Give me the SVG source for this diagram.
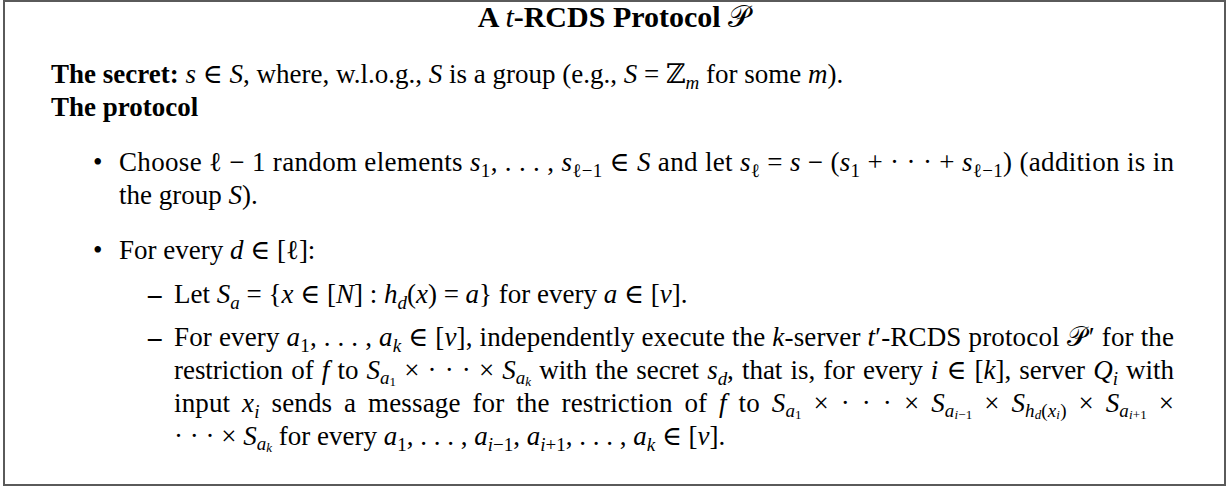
<svg xmlns="http://www.w3.org/2000/svg" width="1228" height="487" viewBox="0 0 1228 487">
  <style>
    .t { font-family: "Liberation Serif", "DejaVu Serif", serif; font-size: 27px; fill: #000; }
    .ttl { font-size: 30px; font-weight: bold; }
    .b { font-weight: bold; }
    .i { font-style: italic; }
    .s { font-size: 19px; }
    .ss { font-size: 13px; }
    .frame { fill: #fff; stroke: #5a5a5a; stroke-width: 2; }
  </style>

  <!-- outer frame -->
  <rect class="frame" x="4" y="1" width="1221" height="484"/>

  <!-- heading -->
  <g id="title">
    <text class="t ttl" x="614" y="27" text-anchor="middle">A <tspan class="i" font-weight="normal">t</tspan>-RCDS Protocol <tspan font-weight="normal">𝒫</tspan></text>
  </g>

  <!-- secret definition -->
  <g id="secret">
    <text class="t" x="51" y="83"><tspan class="b">The secret:</tspan> <tspan class="i">s</tspan> ∈ <tspan class="i">S</tspan>, where, w.l.o.g., <tspan class="i">S</tspan> is a group (e.g., <tspan class="i">S</tspan> = ℤ<tspan class="s i" dy="6">m</tspan><tspan dy="-6"> for some </tspan><tspan class="i">m</tspan>).</text>
  </g>

  <!-- protocol steps -->
  <g id="protocol">
    <text class="t b" x="51" y="116">The protocol</text>

    <!-- step 1: additive sharing -->
    <g id="step-share">
      <text class="t" x="93" y="171">•</text>
      <text class="t" x="119" y="171" textLength="1055" lengthAdjust="spacing">Choose ℓ − 1 random elements <tspan class="i">s</tspan><tspan class="s" dy="6">1</tspan><tspan dy="-6">, . . . , </tspan><tspan class="i">s</tspan><tspan class="s" dy="6">ℓ−1</tspan><tspan dy="-6"> ∈ </tspan><tspan class="i">S</tspan> and let <tspan class="i">s</tspan><tspan class="s" dy="6">ℓ</tspan><tspan dy="-6"> = </tspan><tspan class="i">s</tspan> − (<tspan class="i">s</tspan><tspan class="s" dy="6">1</tspan><tspan dy="-6"> + · · · + </tspan><tspan class="i">s</tspan><tspan class="s" dy="6">ℓ−1</tspan><tspan dy="-6">) (addition is in</tspan></text>
      <text class="t" x="119" y="204">the group <tspan class="i">S</tspan>).</text>
    </g>

    <!-- step 2: per-share execution -->
    <g id="step-execute">
      <text class="t" x="93" y="259">•</text>
      <text class="t" x="119" y="259">For every <tspan class="i">d</tspan> ∈ [ℓ]:</text>

      <text class="t b" x="148" y="303">–</text>
      <text class="t" x="174" y="303">Let <tspan class="i">S</tspan><tspan class="s i" dy="6">a</tspan><tspan dy="-6"> = {</tspan><tspan class="i">x</tspan> ∈ [<tspan class="i">N</tspan>] : <tspan class="i">h</tspan><tspan class="s i" dy="6">d</tspan><tspan dy="-6">(</tspan><tspan class="i">x</tspan>) = <tspan class="i">a</tspan>} for every <tspan class="i">a</tspan> ∈ [<tspan class="i">v</tspan>].</text>

      <text class="t b" x="148" y="346">–</text>
      <text class="t" x="174" y="346" textLength="1000" lengthAdjust="spacing">For every <tspan class="i">a</tspan><tspan class="s" dy="6">1</tspan><tspan dy="-6">, . . . , </tspan><tspan class="i">a</tspan><tspan class="s i" dy="6">k</tspan><tspan dy="-6"> ∈ [</tspan><tspan class="i">v</tspan>], independently execute the <tspan class="i">k</tspan>-server <tspan class="i">t</tspan>′-RCDS protocol 𝒫<tspan dx="3">′</tspan> for the</text>
      <text class="t" x="174" y="379" textLength="1000" lengthAdjust="spacing" word-spacing="1.5">restriction of <tspan class="i">f</tspan> to <tspan class="i">S</tspan><tspan class="s i" dy="5">a</tspan><tspan class="ss" dy="2">1</tspan><tspan dy="-7"> × · · · × </tspan><tspan class="i">S</tspan><tspan class="s i" dy="5">a</tspan><tspan class="ss i" dy="2">k</tspan><tspan dy="-7"> with the secret </tspan><tspan class="i">s</tspan><tspan class="s i" dy="6">d</tspan><tspan dy="-6">, that is, for every </tspan><tspan class="i">i</tspan> ∈ [<tspan class="i">k</tspan>], server <tspan class="i">Q</tspan><tspan class="s i" dy="6">i</tspan><tspan dy="-6"> with</tspan></text>
      <text class="t" x="174" y="412" textLength="1000" lengthAdjust="spacing" word-spacing="5">input <tspan class="i">x</tspan><tspan class="s i" dy="6">i</tspan><tspan dy="-6"> sends a message for the restriction of </tspan><tspan class="i">f</tspan> to <tspan class="i">S</tspan><tspan class="s i" dy="5">a</tspan><tspan class="ss" dy="2">1</tspan><tspan dy="-7"> × · · · × </tspan><tspan class="i">S</tspan><tspan class="s i" dy="5">a</tspan><tspan class="ss i" dy="2">i</tspan><tspan class="ss">−1</tspan><tspan dy="-7"> × </tspan><tspan class="i">S</tspan><tspan class="s i" dy="5">h</tspan><tspan class="ss i" dy="2">d</tspan><tspan class="s" dy="-2">(</tspan><tspan class="s i">x</tspan><tspan class="ss i" dy="2">i</tspan><tspan class="s" dy="-2">)</tspan><tspan dy="-5"> × </tspan><tspan class="i">S</tspan><tspan class="s i" dy="5">a</tspan><tspan class="ss i" dy="2">i</tspan><tspan class="ss">+1</tspan><tspan dy="-7"> ×</tspan></text>
      <text class="t" x="174" y="445">· · · × <tspan class="i">S</tspan><tspan class="s i" dy="5">a</tspan><tspan class="ss i" dy="2">k</tspan><tspan dy="-7"> for every </tspan><tspan class="i">a</tspan><tspan class="s" dy="6">1</tspan><tspan dy="-6">, . . . , </tspan><tspan class="i">a</tspan><tspan class="s i" dy="6">i</tspan><tspan class="s">−1</tspan><tspan dy="-6">, </tspan><tspan class="i">a</tspan><tspan class="s i" dy="6">i</tspan><tspan class="s">+1</tspan><tspan dy="-6">, . . . , </tspan><tspan class="i">a</tspan><tspan class="s i" dy="6">k</tspan><tspan dy="-6"> ∈ [</tspan><tspan class="i">v</tspan>].</text>
    </g>
  </g>
</svg>
